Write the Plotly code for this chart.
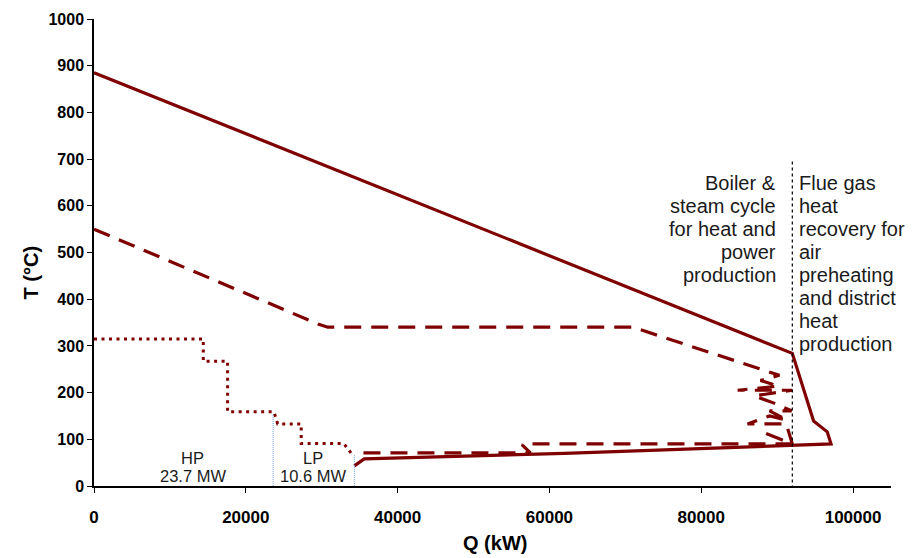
import plotly.graph_objects as go

RED = "#7f0000"

# Flue gas / air composite (solid)
solid_q = [34300, 35600, 62000, 97100, 96600, 94800, 92000, 0]
solid_t = [43, 58, 70, 90, 116, 139, 284, 885]

# Steam cycle composite (dashed)
dash_q = [0, 29500, 30800, 71000, 90300, 87800, 90200, 84800, 92000, 87000, 89500,
          91900, 89000, 91300, 89000, 86100, 91200, 92000, 88000, 92000,
          57000, 56400, 57500, 35000, 34700]
dash_t = [550, 347, 340, 340, 237, 226, 214, 205, 205, 193, 178,
          161, 161, 141, 150, 133, 133, 90, 116, 90,
          90, 88, 71, 71, 73]

# HP / LP steam extraction (dotted)
dot_q = [0, 14400, 14400, 17600, 17600, 23700, 24200, 27300, 27300, 32900, 33900]
dot_t = [315, 315, 267, 267, 159, 159, 133, 133, 91, 91, 70]

# Turbine split markers
split_q = [23600, 34300]
split_t = [152, 66]

boundary_q = 92000
boundary_top = 695

left_lines = ["Boiler &", "steam cycle", "for heat and", "power", "production"]
right_lines = ["Flue gas", "heat", "recovery for", "air", "preheating", "and district", "heat", "production"]
hp_lines = ["HP", "23.7 MW"]
lp_lines = ["LP", "10.6 MW"]

fig = go.Figure()
fig.add_trace(go.Scatter(x=dot_q, y=dot_t, mode="lines",
                         line=dict(color=RED, width=3, dash="3px,4.5px"), showlegend=False))
fig.add_trace(go.Scatter(x=dash_q, y=dash_t, mode="lines",
                         line=dict(color=RED, width=3.2, dash="17px,10px"), showlegend=False))
fig.add_trace(go.Scatter(x=solid_q, y=solid_t, mode="lines",
                         line=dict(color=RED, width=3.2), showlegend=False))
for q, t in zip(split_q, split_t):
    fig.add_trace(go.Scatter(x=[q, q], y=[t, 0], mode="lines",
                             line=dict(color="#6f9fd8", width=1, dash="1px,1px"), showlegend=False))
fig.add_trace(go.Scatter(x=[boundary_q, boundary_q], y=[boundary_top, 0], mode="lines",
                         line=dict(color="black", width=1.2, dash="3px,3px"), showlegend=False))

FONT = "Liberation Sans, Arial"
txt = dict(family=FONT, size=20, color="#1a1a1a")
LINE = 49.3  # 23 px in data units
for i, s in enumerate(left_lines):
    fig.add_annotation(x=90100, y=649 - i * LINE, xref="x", yref="y", xanchor="right", yanchor="middle",
                       text=s, showarrow=False, font=txt)
for i, s in enumerate(right_lines):
    fig.add_annotation(x=92600, y=649 - i * LINE, xref="x", yref="y", xanchor="left", yanchor="middle",
                       text=s, showarrow=False, font=txt)
small = dict(family=FONT, size=16.5, color="#1a1a1a")
for i, s in enumerate(hp_lines):
    fig.add_annotation(x=13000, y=60 - i * 39, xref="x", yref="y", yanchor="middle",
                       text=s, showarrow=False, font=small)
for i, s in enumerate(lp_lines):
    fig.add_annotation(x=28900, y=60 - i * 39, xref="x", yref="y", yanchor="middle",
                       text=s, showarrow=False, font=small)

titlefont = dict(family=FONT, size=20, color="black")
fig.add_annotation(x=-0.095, y=0.458, xref="paper", yref="paper", textangle=-90,
                   text="<b>T (°C)</b>", showarrow=False, font=titlefont)
fig.add_annotation(x=0.503, y=-0.150, xref="paper", yref="paper",
                   text="<b>Q (kW)</b>", showarrow=False, font=titlefont)

xfont = dict(family=FONT, size=17, color="black")
yfont = dict(family=FONT, size=16, color="black")
fig.update_layout(
    width=913, height=558, margin=dict(l=94, r=22, t=19, b=72),
    paper_bgcolor="white", plot_bgcolor="white",
    xaxis=dict(range=[0, 105000], tickvals=[0, 20000, 40000, 60000, 80000, 100000],
               ticktext=["<b>0</b>", "<b>20000</b>", "<b>40000</b>", "<b>60000</b>", "<b>80000</b>", "<b>100000</b>"],
               showgrid=False, zeroline=False, showline=True, linecolor="black", linewidth=1.5,
               ticks="outside", ticklen=5, tickcolor="black", tickfont=xfont, ticklabelstandoff=10),
    yaxis=dict(range=[0, 1000], tickvals=list(range(0, 1001, 100)),
               ticktext=[f"<b>{v}</b>" for v in range(0, 1001, 100)],
               showgrid=False, zeroline=False, showline=True, linecolor="black", linewidth=1.5,
               ticks="outside", ticklen=5, tickcolor="black", tickfont=yfont),
)
fig.write_html("out.html")
